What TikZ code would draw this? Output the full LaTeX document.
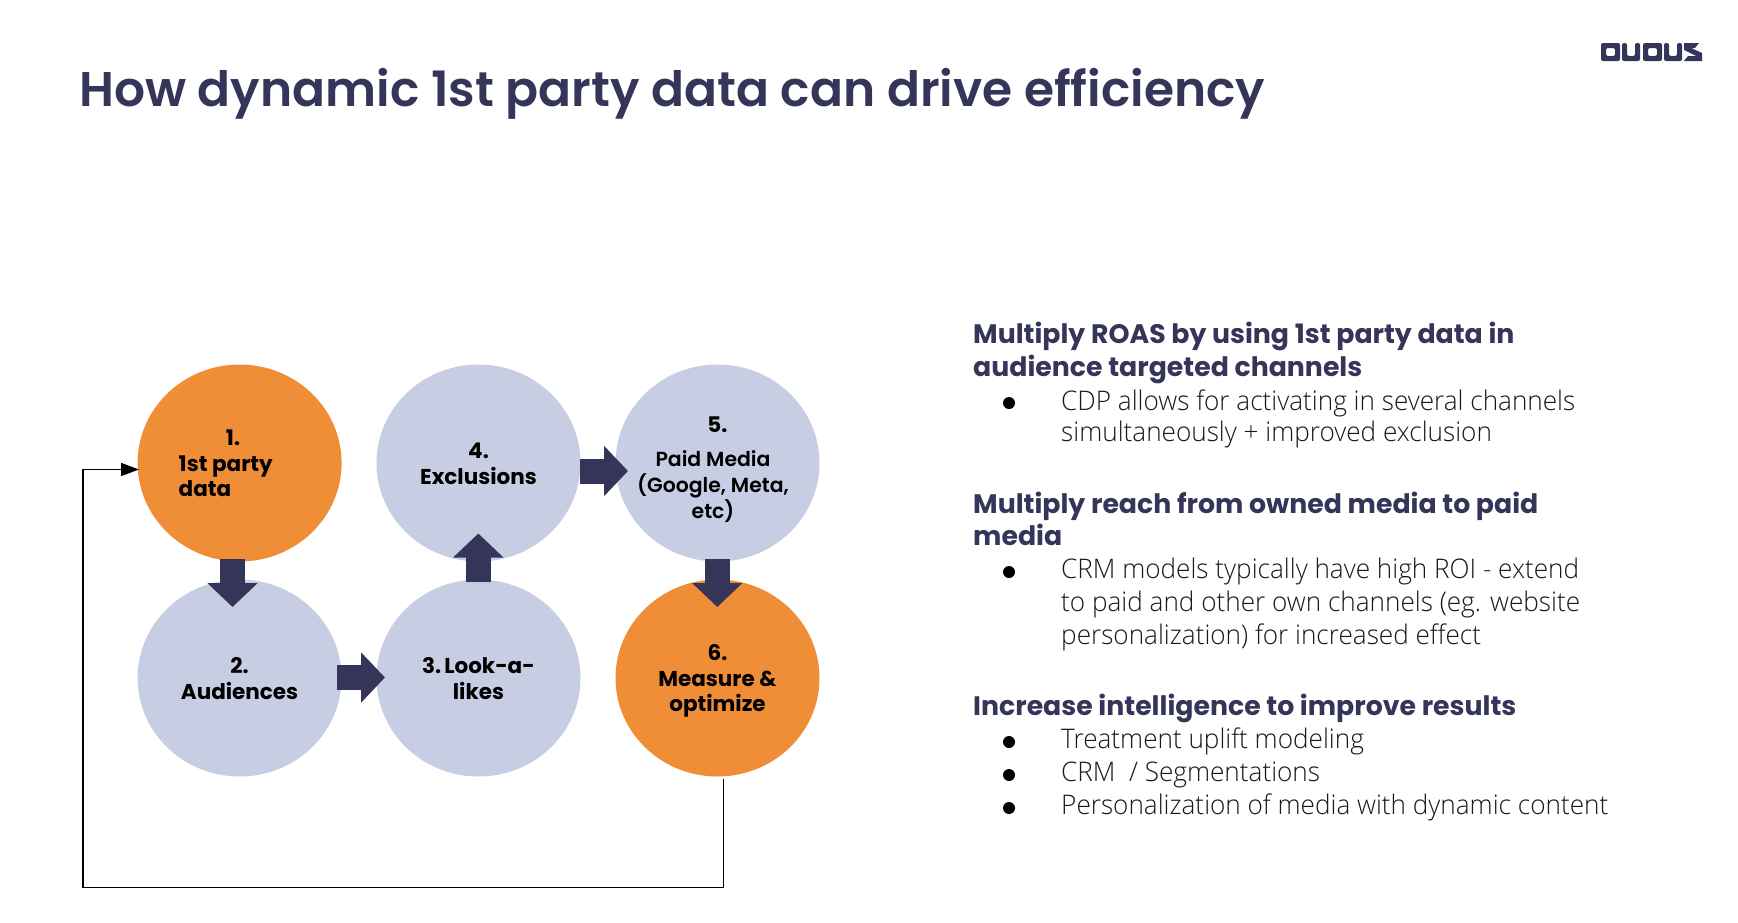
\documentclass[tikz,border=0pt]{standalone}
\usepackage{fontspec}
\usetikzlibrary{arrows.meta,shapes.geometric}
\setmainfont[FakeStretch=0.968]{Open Sans Light}
\newfontfamily\pop{Poppins SemiBold}
\newfontfamily\popb{Poppins Bold}
\definecolor{navy}{HTML}{343558}
\definecolor{peri}{HTML}{C7CDE3}
\definecolor{orng}{HTML}{F08D37}
\tikzset{
  x=1pt,y=-1pt,
  blockarrow/.style={line width=25pt,navy,-{Triangle[length=24pt,width=49pt]}},
  disc/.style={shape=ellipse,minimum width=204pt,minimum height=197pt,inner sep=0pt},
  lab/.style={anchor=base,inner sep=0pt,font=\popb\fontsize{21.5}{21.5}\selectfont,text=black},
  labm/.style={anchor=base,inner sep=0pt,font=\pop\fontsize{20.4}{20.4}\selectfont,text=black},
  head/.style={anchor=base west,inner sep=0pt,font=\popb\fontsize{26.75}{26.75}\selectfont,text=navy},
  body/.style={anchor=base west,inner sep=0pt,font=\fontsize{27}{27}\selectfont,text=black!90},
  bull/.style={circle,fill=black,minimum size=12pt,inner sep=0pt},
}
\begin{document}
\begin{tikzpicture}
\useasboundingbox (0,0) rectangle (1738,922);
\node[anchor=base west,inner sep=0pt,font=\pop\fontsize{48.7}{48.7}\selectfont,text=navy] (title) at (79,106.5) {How dynamic 1st party data can drive efficiency};
% logo
\fill[navy,rounded corners=2pt,even odd rule] (1601,43) -- (1620,43) -- (1620,61) -- (1601,61) -- cycle (1606,48) -- (1615,48) -- (1615,56) -- (1606,56) -- cycle;
\fill[navy,rounded corners=2pt] (1622,43) -- (1627,43) -- (1627,56) -- (1635,56) -- (1635,43) -- (1640,43) -- (1640,61) -- (1622,61) -- cycle;
\fill[navy,rounded corners=2pt,even odd rule] (1643,43) -- (1662,43) -- (1662,61) -- (1643,61) -- cycle (1648,48) -- (1657,48) -- (1657,56) -- (1648,56) -- cycle;
\fill[navy,rounded corners=2pt] (1664,43) -- (1669,43) -- (1669,56) -- (1677,56) -- (1677,43) -- (1682,43) -- (1682,61) -- (1664,61) -- cycle;
\fill[navy] (1684,43) -- (1699,43) -- (1695,48) -- (1691,48) -- (1702,53) -- (1702,61) -- (1684,61) -- (1688,56) -- (1696,56) -- (1684,50) -- cycle;
% discs
\node[disc,fill=orng] (c1) at (239.6,463) {};
\node[disc,fill=peri] (c2) at (239.6,678) {};
\node[disc,fill=peri] (c3) at (478.5,678) {};
\node[disc,fill=peri] (c4) at (478.5,463) {};
\node[disc,fill=peri] (c5) at (717.5,463) {};
\node[disc,fill=orng] (c6) at (717.5,678) {};
% block arrows
\coordinate (a1s) at (232.5,559); \coordinate (a1e) at (232.5,607);
\coordinate (a2s) at (337,677.5); \coordinate (a2e) at (385,677.5);
\coordinate (a3s) at (478.3,581.5); \coordinate (a3e) at (478.3,533.5);
\coordinate (a4s) at (580,471); \coordinate (a4e) at (628,471);
\coordinate (a5s) at (717.3,559); \coordinate (a5e) at (717.3,607);
\draw[blockarrow] (a1s) -- (a1e);
\draw[blockarrow] (a2s) -- (a2e);
\draw[blockarrow] (a3s) -- (a3e);
\draw[blockarrow] (a4s) -- (a4e);
\draw[blockarrow] (a5s) -- (a5e);
% feedback
\coordinate (fbs) at (723.3,779);
\coordinate (fbe) at (139,469.5);
\draw[line width=1.5pt,black,-{Triangle[length=18pt,width=13pt]}] (fbs) -- (723.3,887.3) -- (83,887.3) -- (83,469.5) -- (fbe);
% labels
\node[lab] (l1a) at (233,445) {1.};
\node[lab,anchor=base west] (l1b) at (178.5,471) {1st party};
\node[lab,anchor=base west] (l1c) at (178.5,496.5) {data};
\node[lab] (l2a) at (239.6,673) {2.};
\node[lab] (l2b) at (239.6,699.5) {Audiences};
\node[lab] (l3a) at (478.5,673) {3.\kern-1.5pt\ Look-a-};
\node[lab] (l3b) at (478.5,699.5) {likes};
\node[lab] (l4a) at (478.5,458) {4.};
\node[lab] (l4b) at (478.5,484) {Exclusions};
\node[lab] (l5a) at (717.5,432.5) {5.};
\node[labm] (l5b) at (713,466.5) {Paid Media};
\node[labm] (l5c) at (713,492.5) {(Google, Meta,};
\node[labm] (l5d) at (713,518.5) {etc)};
\node[lab] (l6a) at (717.5,660) {6.};
\node[lab] (l6b) at (717.5,686.5) {Measure \&};
\node[lab] (l6c) at (717.5,711.5) {optimize};
% right text
\node[head] (h1a) at (973,343) {Multiply ROAS by using 1st party data in};
\node[head] (h1b) at (973,376) {audience targeted channels};
\node[bull] (b1) at (1009,403) {};
\node[body] (t1a) at (1061,410) {CDP allows for activating in several channels};
\node[body] (t1b) at (1061,441.5) {simultaneously + improved exclusion};
\node[head] (h2a) at (973,513) {Multiply reach from owned media to paid};
\node[head] (h2b) at (973,545) {media};
\node[bull] (b2) at (1009,572) {};
\node[body] (t2a) at (1061,578.5) {CRM models typically have high ROI - extend};
\node[body] (t2b) at (1061,611.5) {to paid and other own channels (eg. website};
\node[body] (t2c) at (1061,644.5) {personalization) for increased effect};
\node[head] (h3) at (973,715) {Increase intelligence to improve results};
\node[bull] (b3) at (1009,742) {};
\node[body] (t3a) at (1061,748) {Treatment uplift modeling};
\node[bull] (b4) at (1009,775) {};
\node[body] (t3b) at (1061,781) {CRM \ / Segmentations};
\node[bull] (b5) at (1009,808) {};
\node[body] (t3c) at (1061,814) {Personalization of media with dynamic content};
\end{tikzpicture}
\end{document}
